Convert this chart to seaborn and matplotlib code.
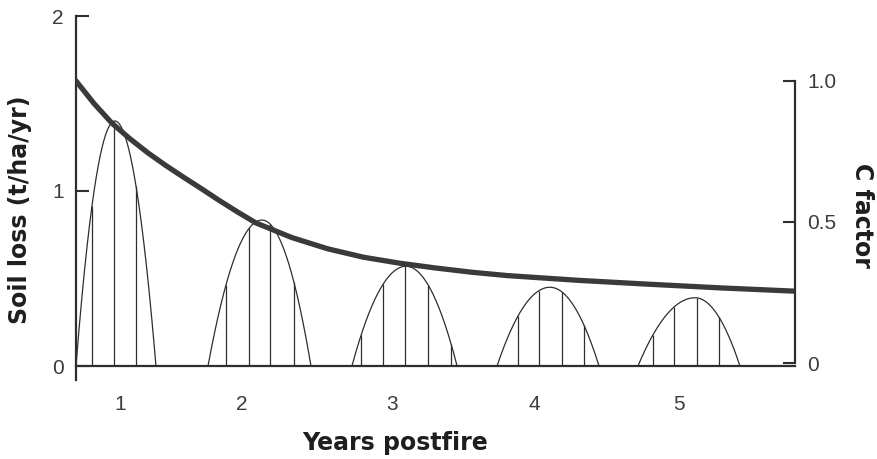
import numpy as np
import pandas as pd
import matplotlib
matplotlib.use("Agg")
import matplotlib.pyplot as plt
import seaborn as sns

# Soil loss pulses, one per year postfire (x in year-axis units)
bell_start = [0.00, 0.918, 1.919, 2.928, 3.908]
bell_peak = [0.27, 1.293, 2.295, 3.296, 4.305]
bell_end = [0.556, 1.634, 2.650, 3.637, 4.617]
bell_height = [1.40, 0.834, 0.57, 0.45, 0.39]
hatch_x = [
    [0.111, 0.264, 0.417],
    [1.043, 1.203, 1.349, 1.516],
    [1.982, 2.135, 2.288, 2.448, 2.608],
    [3.074, 3.220, 3.380, 3.533],
    [4.013, 4.159, 4.318, 4.471],
]

# C factor curve (right axis)
c_x = [0.00, 0.125, 0.25, 0.375, 0.50, 0.625, 0.75, 0.875, 1.00, 1.125, 1.25,
       1.50, 1.75, 2.00, 2.25, 2.50, 2.75, 3.00, 3.50, 4.00, 4.50, 4.99]
c_val = [1.00, 0.92, 0.85, 0.795, 0.745, 0.70, 0.658, 0.617, 0.575, 0.535, 0.497,
         0.445, 0.405, 0.375, 0.354, 0.337, 0.322, 0.31, 0.293, 0.279, 0.266, 0.255]

# x axis: year boundaries (ticks) and year labels
year_edges = [0.605, 1.69, 2.69, 3.69, 4.70]
year_centers = [0.306, 1.154, 2.197, 3.19, 4.193]
year_labels = ["1", "2", "3", "4", "5"]

sns.set_style("white")
plt.rcParams['font.family'] = ['Liberation Sans', 'DejaVu Sans']

ink = "#2e2e2e"
tick_ink = "#3c3c3c"

def bell(x, s, p, e, h):
    w = np.where(x < p, p - s, e - p)
    return h * (1 - ((x - p) / w) ** 2)

fig = plt.figure(figsize=(8.77, 4.59), dpi=100)
ax = fig.add_axes([76 / 877, 79 / 459, 719 / 877, 364 / 459])

for s, p, e, h, hx in zip(bell_start, bell_peak, bell_end, bell_height, hatch_x):
    xs = np.linspace(s, e, 300)
    ax.plot(xs, bell(xs, s, p, e, h), color=ink, lw=0.9)
    hx = np.array(hx)
    ax.vlines(hx, 0, bell(hx, s, p, e, h), color=ink, lw=0.9)

ax.set_xlim(0, 5)
ax.set_ylim(-0.08, 2.0)
for side in ["top", "right"]:
    ax.spines[side].set_visible(False)
ax.spines["bottom"].set_position(("data", 0))
ax.spines["bottom"].set_bounds(0, 5)
ax.spines["left"].set_bounds(-0.08, 2.0)
for side in ["left", "bottom"]:
    ax.spines[side].set_linewidth(1.6)
    ax.spines[side].set_color(ink)

ax.set_yticks([0, 1, 2])
ax.set_yticklabels(["0", "1", "2"])
ax.tick_params(axis="y", direction="in", length=9, width=1.5, pad=9,
               labelsize=15, colors=ink, labelcolor=tick_ink)
ax.set_xticks(year_edges)
ax.set_xticklabels([])
ax.set_xticks(year_centers, minor=True)
ax.set_xticklabels(year_labels, minor=True)
ax.tick_params(axis="x", which="major", direction="out", length=8, width=1.5, colors=ink)
ax.tick_params(axis="x", which="minor", length=0, pad=21, labelsize=15, colors=tick_ink)

ax2 = ax.twinx()
cdf = pd.DataFrame({"x": c_x, "c": c_val})
sns.lineplot(data=cdf, x="x", y="c", ax=ax2, color="#3a3a3a", lw=3.8)
ax2.set_ylim(-0.06, 1.23)
ax2.set_xlim(0, 5)
for side in ["top", "bottom", "left"]:
    ax2.spines[side].set_visible(False)
ax2.spines["right"].set_bounds(0, 1.0)
ax2.spines["right"].set_linewidth(1.6)
ax2.spines["right"].set_color(ink)
ax2.set_yticks([0, 0.5, 1.0])
ax2.set_yticklabels(["0", "0.5", "1.0"])
ax2.tick_params(axis="y", direction="in", length=9, width=1.5, pad=9,
                labelsize=15, colors=ink, labelcolor=tick_ink)
ax2.set_ylabel("")
ax2.set_xlabel("")

label_kw = dict(ha="center", va="center", fontsize=17, fontweight="bold",
                color="#1e1e1e", family="DejaVu Sans")
fig.text(395 / 877, 1 - 443 / 459, "Years postfire", **label_kw)
fig.text(20 / 877, 1 - 210 / 459, "Soil loss (t/ha/yr)", rotation=90, **label_kw)
fig.text(862 / 877, 1 - 215 / 459, "C factor", rotation=-90, **label_kw)

fig.savefig("out.png", dpi=100)
